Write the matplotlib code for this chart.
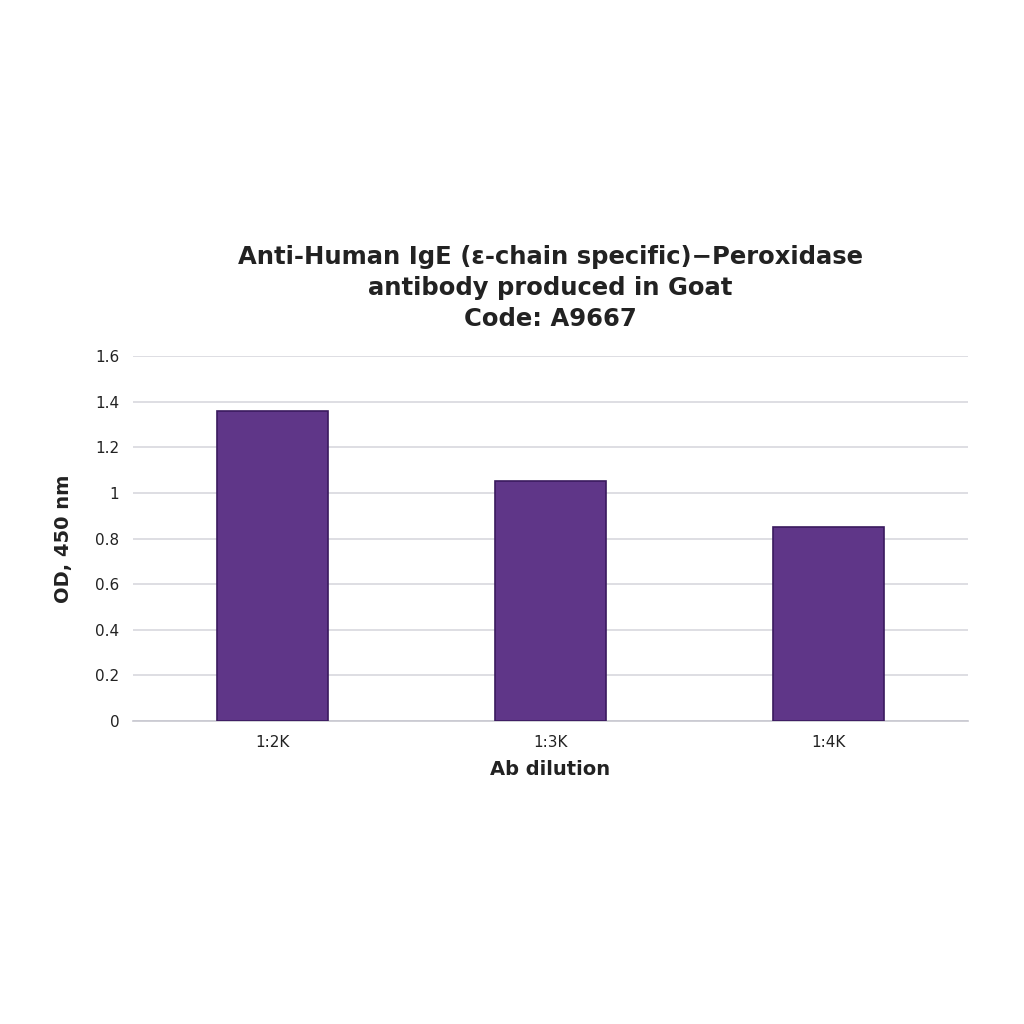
import numpy as np
import matplotlib.pyplot as plt

# data
dilutions = ['1:2K', '1:3K', '1:4K']
od450 = [1.36, 1.055, 0.85]
yticks = [0, 0.2, 0.4, 0.6, 0.8, 1.0, 1.2, 1.4, 1.6]
ytick_labels = ['0', '0.2', '0.4', '0.6', '0.8', '1', '1.2', '1.4', '1.6']

fig = plt.figure(figsize=(10.24, 10.24), dpi=100)
ax = fig.add_axes([0.130, 0.296, 0.815, 0.356])

x = np.arange(len(dilutions))
ax.bar(x, od450, width=0.4, color='#5f3688', edgecolor='#3a1a5e', linewidth=1.2, zorder=3)

ax.set_xlim(-0.5, 2.5)
ax.set_ylim(0, 1.6)
ax.set_yticks(yticks)
ax.set_yticklabels(ytick_labels)
ax.set_xticks(x)
ax.set_xticklabels(dilutions)
ax.tick_params(axis='both', length=0, labelsize=11, pad=10, labelcolor='#222222')
ax.grid(axis='y', color='#d8d8de', linewidth=1.2, zorder=0)

for s in ['top', 'right', 'left']:
    ax.spines[s].set_visible(False)
ax.spines['bottom'].set_color('#c8c8d0')
ax.spines['bottom'].set_linewidth(1.2)

ax.set_xlabel('Ab dilution', fontsize=14, fontweight='bold', labelpad=7, color='#222222')
ax.set_ylabel('OD, 450 nm', fontsize=14, fontweight='bold', labelpad=16, color='#222222')
ax.set_title('Anti-Human IgE (\u03b5-chain specific)\u2212Peroxidase\nantibody produced in Goat\nCode: A9667',
             fontsize=17.5, fontweight='bold', linespacing=1.35, pad=22, color='#222222')

plt.savefig('out.png', dpi=100)
